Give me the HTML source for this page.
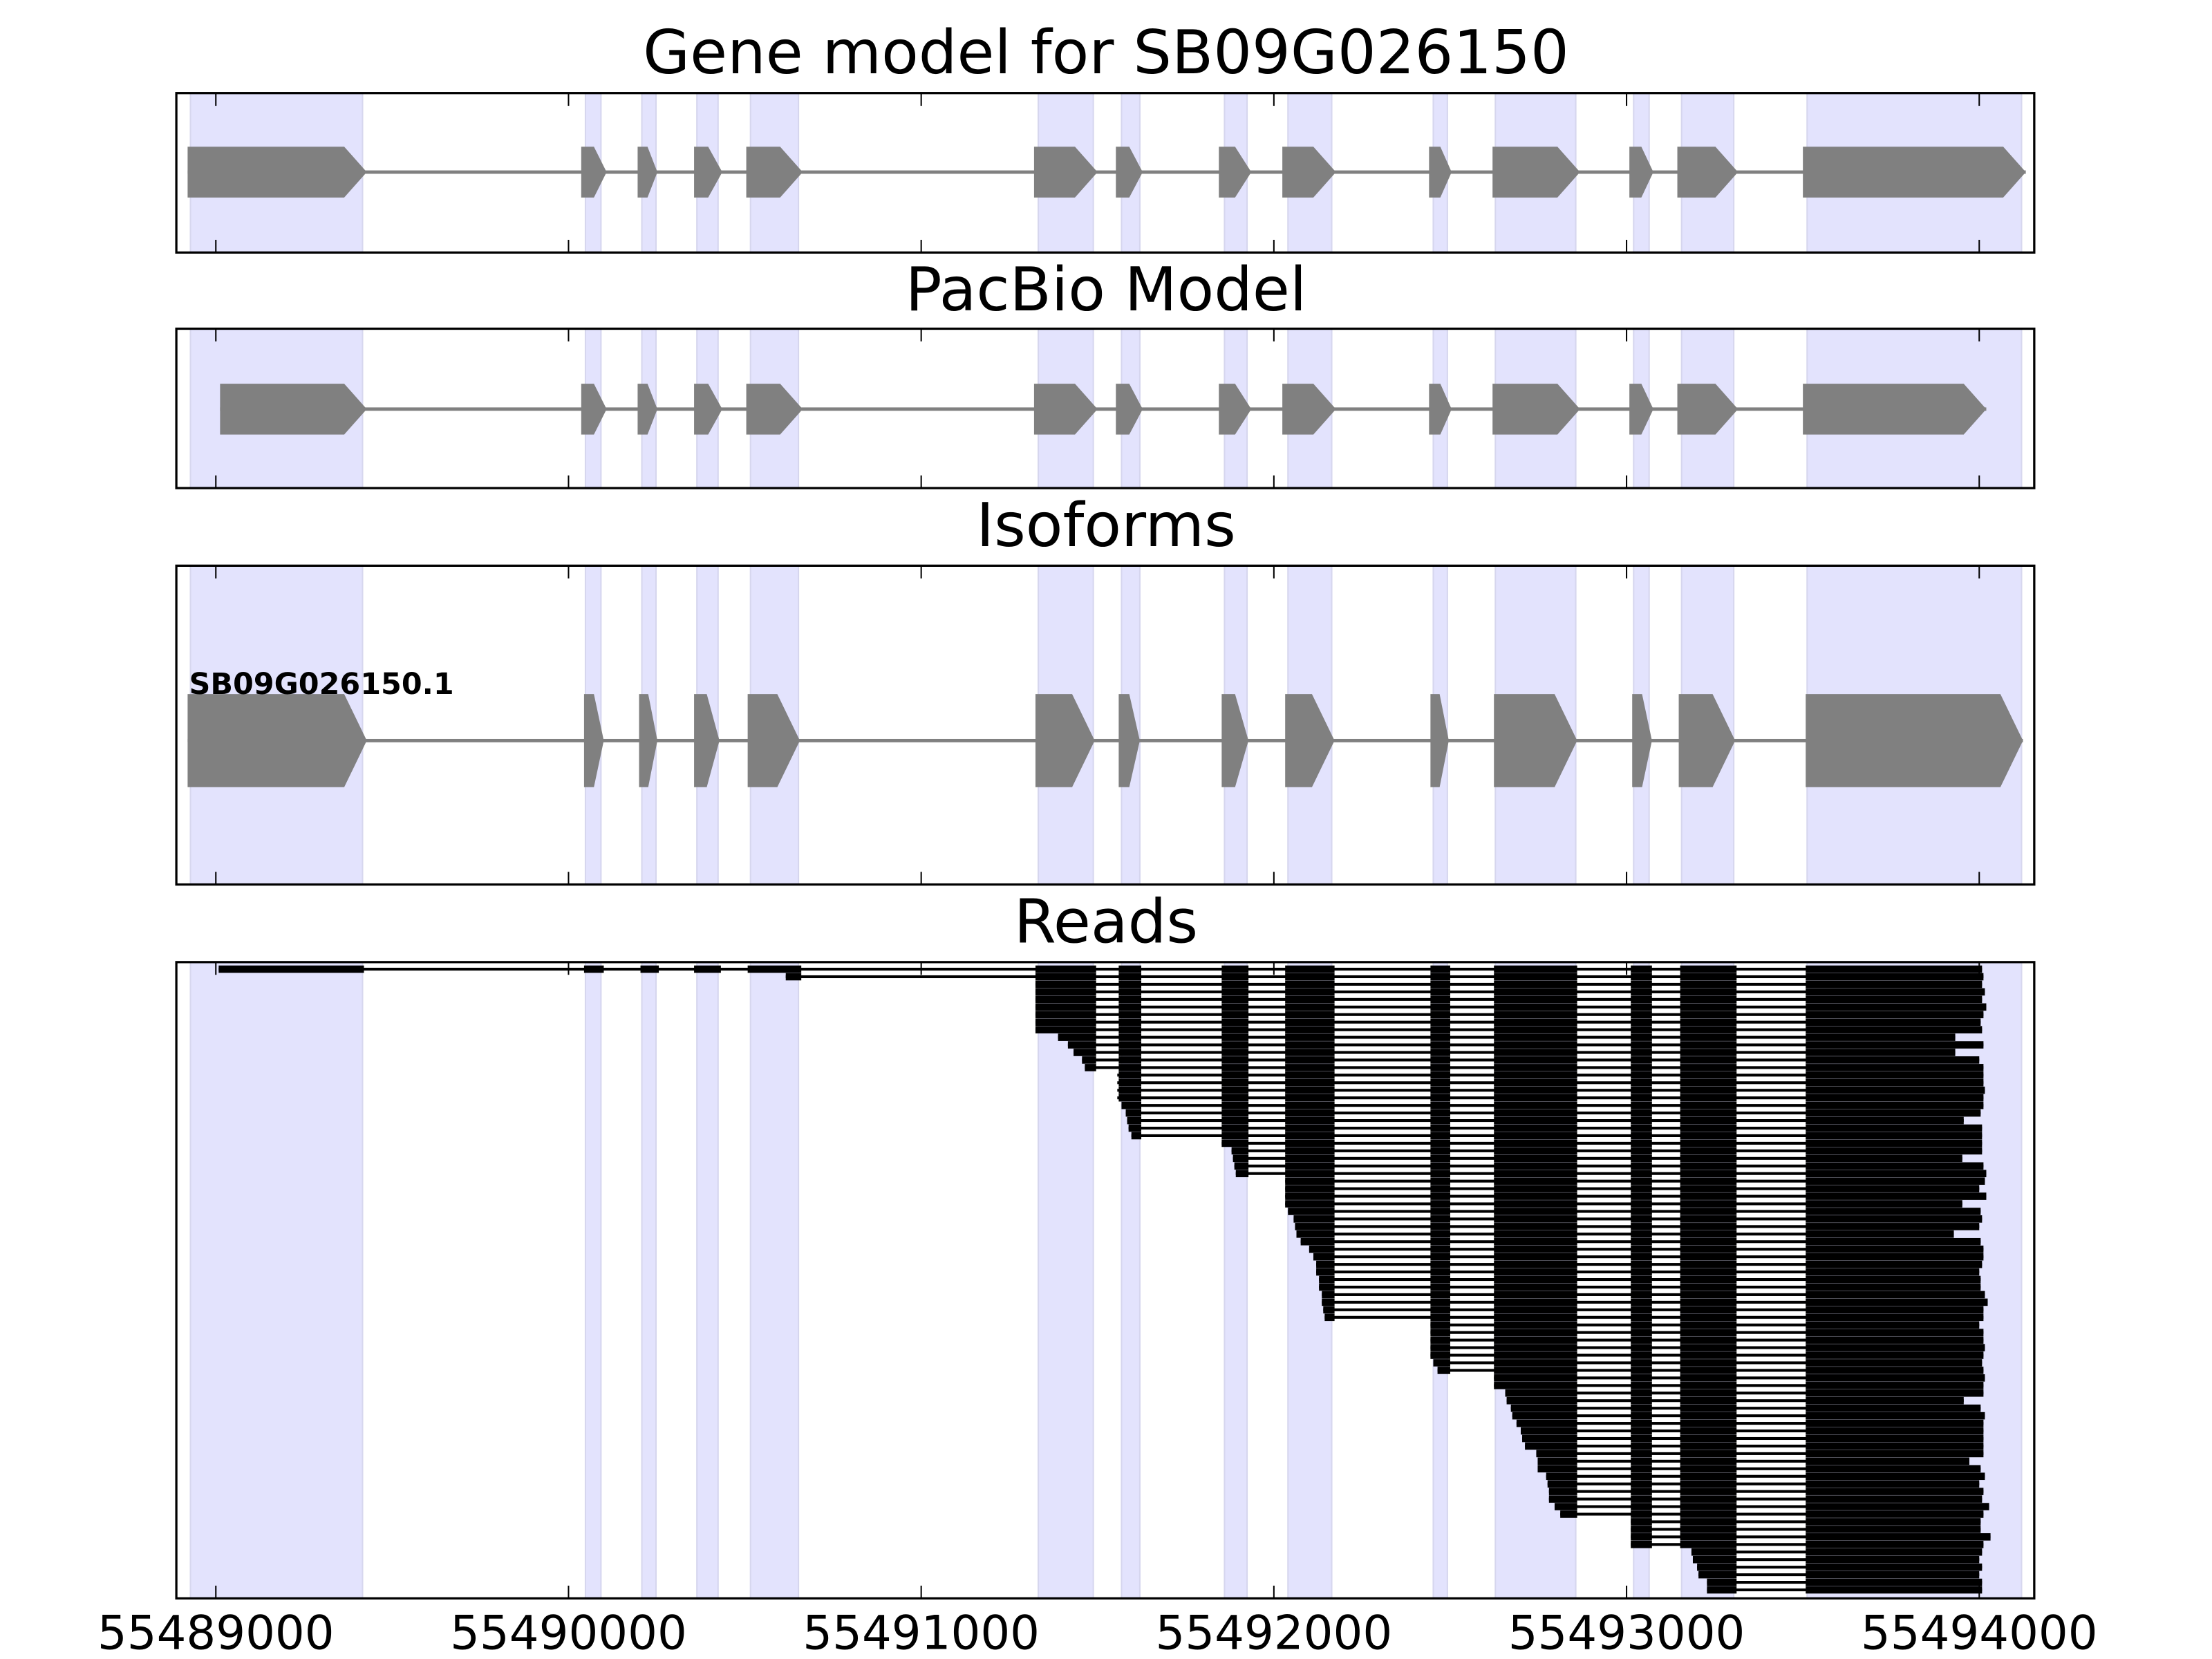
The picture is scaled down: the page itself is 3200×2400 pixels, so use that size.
<!DOCTYPE html>
<html><head><meta charset="utf-8"><style>
html,body{margin:0;padding:0;background:#fff;}
svg{display:block;}
text{font-family:"DejaVu Sans","Liberation Sans",sans-serif;fill:#000;}
</style></head><body>
<svg id="s" xmlns="http://www.w3.org/2000/svg" width="3200" height="2400" viewBox="0 0 1568 1176">
<rect width="1568" height="1176" fill="#fff"/>
<g id="g"></g>
<text x="784" y="52" font-size="43" text-anchor="middle">Gene model for SB09G026150</text>
<text x="784" y="220" font-size="43" text-anchor="middle">PacBio Model</text>
<text x="784" y="387" font-size="43" text-anchor="middle">Isoforms</text>
<text x="784" y="668" font-size="43" text-anchor="middle">Reads</text>
<text x="134" y="492" font-size="21" font-weight="bold">SB09G026150.1</text>
<text x="153" y="1169" font-size="33" text-anchor="middle">55489000</text>
<text x="403" y="1169" font-size="33" text-anchor="middle">55490000</text>
<text x="653" y="1169" font-size="33" text-anchor="middle">55491000</text>
<text x="903" y="1169" font-size="33" text-anchor="middle">55492000</text>
<text x="1153" y="1169" font-size="33" text-anchor="middle">55493000</text>
<text x="1403" y="1169" font-size="33" text-anchor="middle">55494000</text>
</svg>
<script>
(function(){
var g=document.getElementById("g"),h=[];
var panels=[[66,179],[233,346],[401,627],[682,1133]];
var shade=[[135,257],[415,426],[455,465],[494,509],[532,566],[736,775],[795,808],[868,884],[913,944],[1016,1026],[1060,1117],[1158,1169],[1192,1229],[1281,1433]];
panels.forEach(function(p){
 shade.forEach(function(s){h.push('<rect x="'+s[0]+'" y="'+p[0]+'" width="'+(s[1]-s[0])+'" height="'+(p[1]-p[0])+'" fill="#e3e3fd" stroke="#d6d6ee" stroke-width="1"/>');});
});
function gene(ex,cy,hh){
 var a=ex[0][0],b=ex[ex.length-1][1];
 h.push('<rect x="'+a+'" y="'+(cy-1.2)+'" width="'+(b-a)+'" height="2.4" fill="#808080"/>');
 ex.forEach(function(e){var w=e[1]-e[0],t=Math.min(16,w*0.5),m=e[1]-t;
  h.push('<polygon points="'+e[0]+','+(cy-hh)+' '+m+','+(cy-hh)+' '+e[1]+','+cy+' '+m+','+(cy+hh)+' '+e[0]+','+(cy+hh)+'" fill="#808080"/>');});
}
var E1=[[133,260],[412,430],[452,466],[492,512],[529,569],[733,778],[791,810],[864,887],[909,947],[1013,1029],[1058,1120],[1155,1172],[1189,1232],[1278,1436]];
gene(E1,122,18);
var E2=E1.map(function(e){return e.slice();});E2[0][0]=156;E2[13][1]=1408;
gene(E2,290,18);
gene([[133,260],[414,428],[453,466],[492,510],[530,567],[734,776],[793,808],[866,885],[911,946],[1014,1027],[1059,1118],[1157,1171],[1190,1230],[1280,1434]],525,33);
var RX=[[153,258],[414,428],[454,467],[492,511],[530,568],[734,777],[793,809],[866,885],[911,946],[1014,1028],[1059,1118],[1156,1171],[1191,1231],[1280,2000]];
var starts=[155,557];
function add(v,n){for(var i=0;i<n;i++)starts.push(v);}
add(734,7);[750,757,761,767,769].forEach(function(v){starts.push(v);});
add(792,4);[795,798,799,800,802].forEach(function(v){starts.push(v);});
add(866,1);[873,874,875,876].forEach(function(v){starts.push(v);});
add(911,4);[913,917,918,919,922,928,931,933,933,935,935,937,937,938,939].forEach(function(v){starts.push(v);});
add(1014,5);[1016,1019].forEach(function(v){starts.push(v);});
add(1059,2);[1067,1068,1071,1072,1075,1078,1079,1081,1089,1090,1090,1096,1097,1098,1098,1102,1106].forEach(function(v){starts.push(v);});
add(1156,4);[1199,1200,1203,1204,1210,1210].forEach(function(v){starts.push(v);});
var n=starts.length,y0=687,y1=1127,pitch=(y1-y0)/(n-1);
var ends=[1405,1406,1405,1407,1405,1408,1406,1404,1405,1386,1406,1386,1403,1406,1406,1406,1407,1406,1406,1404,1392,1405,1405,1405,1405,1391,1406,1408,1407,1403,1408,1391,1404,1405,1403,1385,1404,1406,1406,1405,1403,1404,1404,1407,1409,1406,1406,1403,1406,1406,1407,1406,1405,1406,1407,1406,1406,1392,1404,1407,1406,1406,1406,1406,1406,1396,1404,1407,1403,1406,1405,1410,1406,1404,1404,1411,1406,1405,1403,1405,1403,1405,1405];
starts.forEach(function(s,i){
 var y=y0+i*pitch,e=ends[i%ends.length];
 h.push('<rect x="'+s+'" y="'+(y-1)+'" width="'+(e-s)+'" height="2" fill="#000"/>');
 RX.forEach(function(r){var a=Math.max(r[0],s),b=Math.min(r[1],e);
  if(b>a)h.push('<rect x="'+a+'" y="'+(y-2.6)+'" width="'+(b-a)+'" height="5.2" fill="#000"/>');});
});
var ticks=[153,403,653,903,1153,1403];
panels.forEach(function(p){
 ticks.forEach(function(t){h.push('<line x1="'+t+'" x2="'+t+'" y1="'+p[0]+'" y2="'+(p[0]+9)+'" stroke="#000" stroke-width="1"/><line x1="'+t+'" x2="'+t+'" y1="'+p[1]+'" y2="'+(p[1]-9)+'" stroke="#000" stroke-width="1"/>');});
 h.push('<rect x="125" y="'+p[0]+'" width="1317" height="'+(p[1]-p[0])+'" fill="none" stroke="#000" stroke-width="1.6"/>');
});
g.innerHTML=h.join("");
})();
</script>
</body></html>
